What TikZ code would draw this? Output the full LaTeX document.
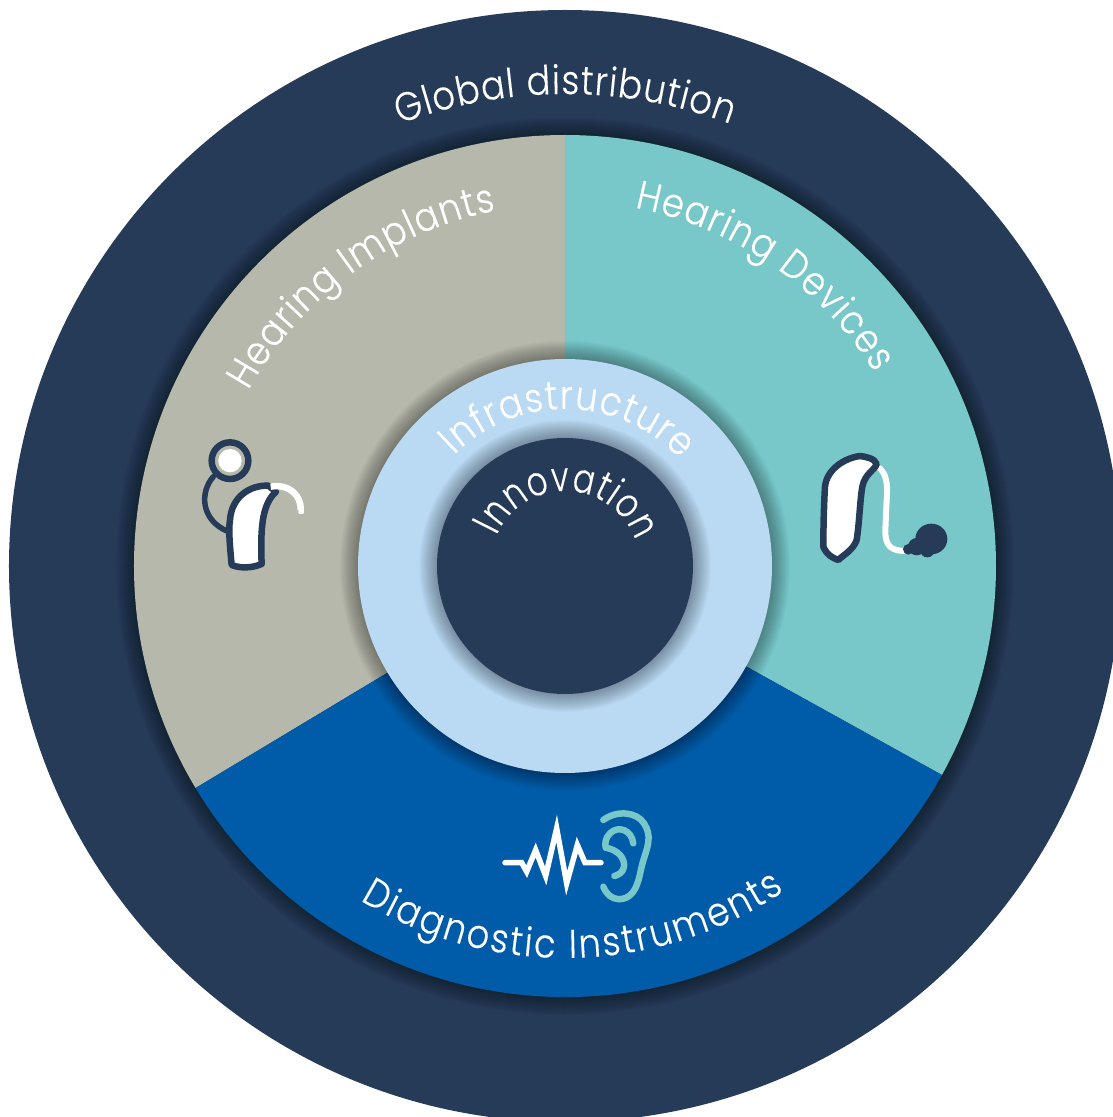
\documentclass[tikz,border=0pt]{standalone}
\usepackage{fontspec}
\setmainfont{Poppins Light}
\newfontface\fontA[FakeStretch=0.88,FakeBold=0.25]{Poppins Light}
\newfontface\fontB[FakeStretch=0.78,FakeBold=0.25]{Poppins Light}
\usetikzlibrary{decorations.text}
\definecolor{navy}{HTML}{253B58}
\definecolor{stone}{HTML}{B6B8AB}
\definecolor{teal}{HTML}{78C7C9}
\definecolor{royal}{HTML}{005CA9}
\definecolor{sky}{HTML}{BADAF4}
\newcommand{\softshadow}[1]{\foreach \i in {1,...,18}{\fill[black,opacity=0.02] (0,0) circle[radius=#1pt+\i pt];}}
% arc label: radius, start angle, end angle, font and size, text
\newcommand{\arclabel}[5]{\path[decorate,decoration={text along path,text align={fit to path},text={|\color{white}#4|#5}}] (#2:#1pt) arc[start angle=#2,end angle=#3,radius=#1pt];}
\newcommand{\sizeA}{\fontA\fontsize{40pt}{40pt}\selectfont}
\newcommand{\sizeB}{\fontB\fontsize{41pt}{41pt}\selectfont}
\tikzset{
  iconline/.style={navy,line width=6.5pt,line join=round,line cap=round},
  whiteline/.style={white,line width=6pt,line cap=round,line join=round},
  earline/.style={teal,line width=6.5pt,line cap=round,line join=round},
  iconzoom/.style={x=1pt,y=1pt,xscale=1/3,yscale=-1/3}
}
\begin{document}
\begin{tikzpicture}
\useasboundingbox (-565pt,-551pt) rectangle (548pt,566pt);
\clip (-565pt,-551pt) rectangle (548pt,566pt);
\fill[white] (-565pt,-551pt) rectangle (548pt,566pt);
% outer disc
\fill[navy] (0,0) circle[radius=556pt];
\softshadow{431}
% sectors
\fill[stone] (0,0) -- (90:431pt) arc[start angle=90,end angle=211,radius=431pt] -- cycle;
\fill[teal] (0,0) -- (90:431pt) arc[start angle=90,end angle=-29,radius=431pt] -- cycle;
\fill[royal] (0,0) -- (211:431pt) arc[start angle=211,end angle=331,radius=431pt] -- cycle;
% ring
\softshadow{207}
\fill[sky] (0,0) circle[radius=207pt];
% inner disc
\softshadow{128}
\fill[navy] (0,0) circle[radius=128pt];
% labels
\arclabel{472}{110.5}{69.5}{\sizeA}{Global distribution}
\arclabel{362}{151}{101}{\sizeA}{Hearing Implants}
\arclabel{365}{79}{32}{\sizeA}{Hearing Devices}
\arclabel{392}{238.5}{304}{\sizeA}{Diagnostic Instruments}
\arclabel{157}{135}{43}{\sizeA}{Infrastructure}
\arclabel{75}{156}{20}{\sizeB}{Innovation}
% implant icon
\begin{scope}[shift={(-385pt,146pt)},iconzoom]
  \draw[iconline,line width=5.5pt] (100,170) .. controls (60,215) and (60,300) .. (145,335);
  \draw[iconline,fill=white] (155,435) .. controls (150,380) and (145,330) .. (150,300)
     .. controls (155,230) and (210,195) .. (265,197) -- (288,215)
     .. controls (250,250) and (240,310) .. (245,432) .. controls (215,445) and (180,445) .. (155,435) -- cycle;
  \draw[whiteline,line width=6.5pt,line cap=butt] (272,200) .. controls (330,190) and (365,230) .. (362,270);
  \fill[white,rounded corners=1pt] (355,262) rectangle (372,282);
  \draw[iconline] (150,122) circle[radius=55];
  \fill[white] (150,122) circle[radius=35];
\end{scope}
% device icon
\begin{scope}[shift={(235pt,126pt)},iconzoom]
  \draw[whiteline] (240,85) .. controls (265,110) and (262,150) .. (260,180)
     -- (256,270) .. controls (255,320) and (275,332) .. (315,333);
  \draw[iconline,fill=white] (70,320) .. controls (70,260) and (72,190) .. (75,140)
     .. controls (80,90) and (130,55) .. (180,48) .. controls (195,50) and (225,55) .. (230,72)
     .. controls (225,90) and (195,100) .. (187,140) .. controls (180,180) and (178,250) .. (170,300)
     .. controls (160,330) and (130,345) .. (115,360) .. controls (100,355) and (80,345) .. (70,320) -- cycle;
  \fill[navy] (394,297) ellipse[x radius=48,y radius=46];
  \fill[navy] (325,328) circle[radius=16];
  \fill[navy] (350,320) circle[radius=26];
  \fill[navy] (382,330) circle[radius=22];
\end{scope}
% diagnostic icon
\begin{scope}[shift={(-75pt,-229pt)},iconzoom]
  \draw[white,line width=5.5pt,line join=miter,miter limit=12,line cap=round] (45,203) -- (95,203) -- (110,230) -- (137,165) -- (167,243) -- (200,100) -- (230,265) -- (262,150) -- (285,203) -- (333,203);
  \draw[earline] (340,75) .. controls (380,45) and (440,50) .. (462,85)
     .. controls (485,120) and (475,150) .. (462,190) .. controls (450,225) and (450,260) .. (430,290)
     .. controls (410,320) and (360,325) .. (340,275);
  \draw[earline] (430,145) .. controls (425,105) and (385,90) .. (360,115)
     .. controls (345,130) and (345,145) .. (347,158) .. controls (385,165) and (405,190) .. (402,215)
     .. controls (400,232) and (385,240) .. (373,243);
\end{scope}
\end{tikzpicture}
\end{document}
